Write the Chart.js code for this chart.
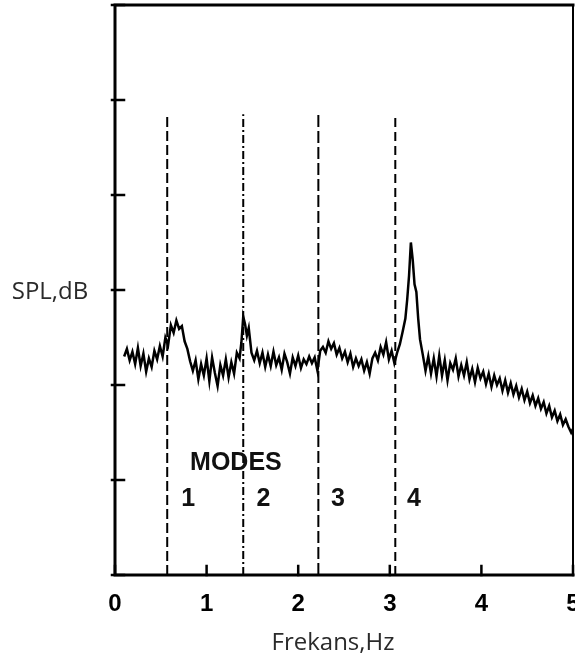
<!DOCTYPE html>
<html>
<head>
<meta charset="utf-8">
<script src="https://cdn.jsdelivr.net/npm/chart.js@4.4.0/dist/chart.umd.min.js"></script>
<style>
  html, body { margin: 0; padding: 0; background: #fff; }
  #wrap { width: 575px; height: 662px; }
</style>
</head>
<body>
<div id="wrap"><canvas id="c" width="575" height="662"></canvas></div>
<script>
// frecuencias (Hz) y nivel SPL (dB, escala relativa)
var freqs = [0.10,0.13,0.16,0.19,0.22,0.25,0.28,0.31,0.34,0.37,0.40,0.43,0.46,0.49,0.52,0.55,0.58,0.61,0.64,0.67,
  0.70,0.73,0.76,0.79,0.82,0.85,0.88,0.91,0.94,0.97,1.00,1.03,1.06,1.09,1.12,1.15,1.18,1.21,1.24,1.27,
  1.30,1.33,1.36,1.38,1.40,1.42,1.44,1.46,1.49,1.52,1.55,1.58,1.61,1.64,1.67,1.70,1.73,1.76,1.79,1.82,
  1.85,1.88,1.91,1.94,1.97,2.00,2.03,2.06,2.09,2.12,2.15,2.18,2.21,2.24,2.27,2.30,2.33,2.36,2.39,2.42,
  2.45,2.48,2.51,2.54,2.57,2.60,2.63,2.66,2.69,2.72,2.75,2.78,2.81,2.84,2.87,2.90,2.93,2.96,2.99,3.02,
  3.05,3.08,3.11,3.14,3.17,3.19,3.21,3.23,3.25,3.27,3.29,3.31,3.33,3.36,3.39,3.42,3.45,3.48,3.51,3.54,
  3.57,3.60,3.63,3.66,3.69,3.72,3.75,3.78,3.81,3.84,3.87,3.90,3.93,3.96,3.99,4.02,4.05,4.08,4.11,4.14,
  4.17,4.20,4.23,4.26,4.29,4.32,4.35,4.38,4.41,4.44,4.47,4.50,4.53,4.56,4.59,4.62,4.65,4.68,4.71,4.74,
  4.77,4.80,4.83,4.86,4.89,4.92,4.95,4.98,5.00];
var spl = [23.0,23.8,22.6,23.5,22.2,23.9,22.0,23.3,21.4,22.8,21.9,23.6,22.7,24.1,23.0,25.0,24.2,26.3,25.5,26.8,
  25.9,26.2,24.6,23.8,22.5,21.5,22.6,20.6,22.2,21.0,22.8,20.4,22.9,21.3,19.9,22.1,21.0,22.7,20.8,22.4,
  21.2,23.4,22.8,24.5,27.2,26.4,25.2,26.0,23.4,22.6,23.6,22.3,23.4,21.9,23.2,22.0,23.5,22.1,22.9,21.6,
  23.3,22.4,21.2,22.9,22.0,23.1,21.8,22.7,22.2,23.0,22.3,22.9,21.5,23.6,24.0,23.4,24.6,23.8,24.4,23.2,
  23.9,22.8,23.5,22.4,23.3,21.9,22.8,22.0,22.7,21.5,22.4,21.2,22.8,23.4,22.6,24.0,23.2,24.5,22.7,23.6,
  22.3,23.4,24.3,25.6,27.0,29.0,31.5,35.0,33.2,30.6,29.8,27.0,24.8,23.2,21.5,23.0,21.2,22.8,20.9,23.1,
  21.0,22.6,20.5,22.3,21.6,22.8,20.9,22.1,21.0,22.4,20.6,21.7,20.3,21.8,20.7,21.4,20.1,21.2,19.8,21.0,
  20.0,20.7,19.4,20.5,19.2,20.2,19.0,19.9,18.7,19.6,18.4,19.3,18.1,18.9,17.8,18.6,17.5,18.2,17.0,17.8,
  16.6,17.3,16.2,16.9,15.8,16.4,15.6,15.0,15.4];

// frecuencias de los modos y altura de las lineas
var modeFreqs = [0.57, 1.40, 2.22, 3.06];
var modeNames = ['1', '2', '3', '4'];
var modeTop = 48.5;
var xTicks = [0, 1, 2, 3, 4, 5];
var yTicks = [0, 10, 20, 30, 40, 50, 60];

var dashes = [[10, 4], [8, 3, 2, 3], [12, 4], [9, 5]];

var datasets = [{
  label: 'SPL',
  data: freqs.map(function (f, i) { return { x: f, y: spl[i] }; }),
  borderColor: '#000',
  borderWidth: 2.5,
  pointRadius: 0,
  tension: 0,
  fill: false
}];
modeFreqs.forEach(function (f, i) {
  datasets.push({
    label: 'Mode ' + modeNames[i],
    data: [{ x: f, y: 0 }, { x: f, y: modeTop }],
    borderColor: '#000',
    borderWidth: 2,
    borderDash: dashes[i],
    pointRadius: 0,
    fill: false
  });
});

var marcos = {
  id: 'marcos',
  afterDraw: function (chart) {
    var ctx = chart.ctx;
    var a = chart.chartArea;
    var xs = chart.scales.x, ys = chart.scales.y;
    ctx.save();
    ctx.strokeStyle = '#000';
    ctx.lineCap = 'square';
    // marco
    ctx.lineWidth = 3;
    ctx.beginPath();
    ctx.moveTo(a.left, a.bottom); ctx.lineTo(a.left, a.top); ctx.lineTo(a.right, a.top);
    ctx.moveTo(a.left, a.bottom); ctx.lineTo(a.right, a.bottom);
    ctx.stroke();
    ctx.lineWidth = 2;
    ctx.beginPath();
    ctx.moveTo(a.right, a.top); ctx.lineTo(a.right, a.bottom);
    ctx.stroke();
    // marcas hacia dentro
    ctx.lineWidth = 2.5;
    ctx.beginPath();
    yTicks.forEach(function (v) {
      var y = ys.getPixelForValue(v);
      ctx.moveTo(a.left - 3, y); ctx.lineTo(a.left + 9, y);
    });
    xTicks.forEach(function (v) {
      var x = xs.getPixelForValue(v);
      ctx.moveTo(x, a.bottom); ctx.lineTo(x, a.bottom - 9);
    });
    ctx.stroke();
    // textos de los modos
    ctx.fillStyle = '#111';
    ctx.textAlign = 'center';
    ctx.textBaseline = 'middle';
    ctx.font = 'bold 25px "Liberation Sans", Arial, sans-serif';
    ctx.fillText('MODES', xs.getPixelForValue(1.32), ys.getPixelForValue(11.8));
    var lx = [0.80, 1.62, 2.435, 3.265];
    modeNames.forEach(function (n, i) {
      ctx.fillText(n, xs.getPixelForValue(lx[i]), ys.getPixelForValue(8.0));
    });
    // titulos de ejes
    ctx.fillStyle = '#2a2a2a';
    ctx.font = '24px "Open Sans", sans-serif';
    ctx.fillText('SPL,dB', 50, 292);
    ctx.fillText('Frekans,Hz', 333, 643);
    ctx.restore();
  }
};

var ctx = document.getElementById('c').getContext('2d');
var chart = new Chart(ctx, {
  type: 'line',
  data: { datasets: datasets },
  options: {
    responsive: false,
    animation: false,
    layout: { autoPadding: false, padding: { top: 5, right: 2, left: 0, bottom: 0 } },
    plugins: { legend: { display: false }, tooltip: { enabled: false } },
    scales: {
      x: {
        type: 'linear', min: 0, max: 5,
        grid: { display: false },
        border: { display: false },
        ticks: {
          stepSize: 1, color: '#000', padding: 7,
          font: { family: '"Liberation Sans", Arial, sans-serif', size: 24, weight: 'bold' }
        },
        afterFit: function (s) {
          s.height = 87;
          s.paddingLeft = 0; s.paddingRight = 0;
        }
      },
      y: {
        min: 0, max: 60,
        grid: { display: false },
        border: { display: false },
        ticks: { display: false, stepSize: 10 },
        afterFit: function (s) {
          s.width = 115;
          s.paddingTop = 0; s.paddingBottom = 0;
        }
      }
    }
  },
  plugins: [marcos]
});
</script>
</body>
</html>
